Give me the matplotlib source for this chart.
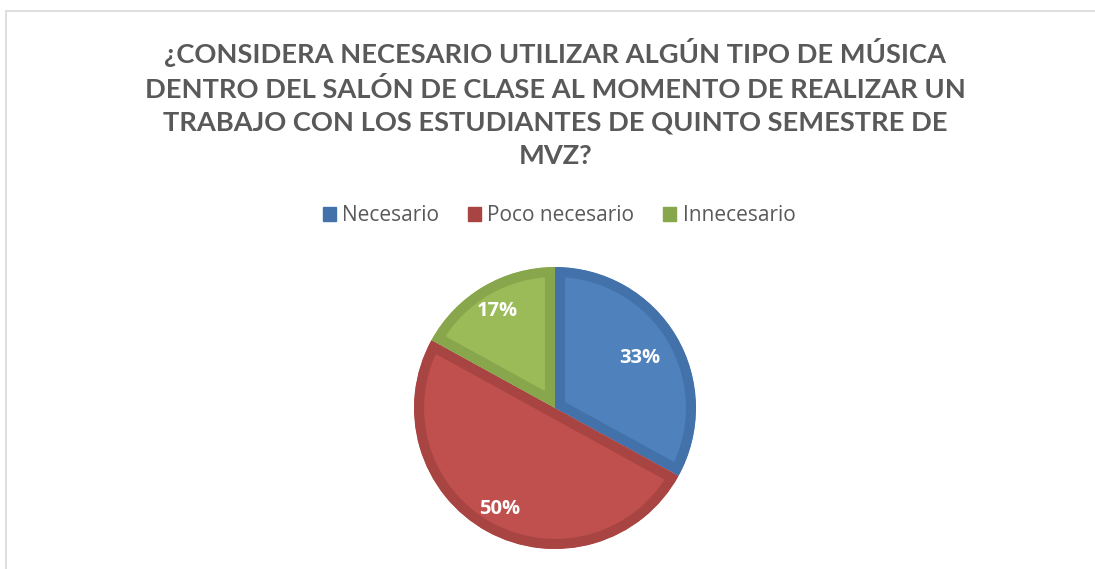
import numpy as np
import matplotlib
matplotlib.use("Agg")
import matplotlib.pyplot as plt
from matplotlib.patches import Patch, Rectangle

title = ("¿CONSIDERA NECESARIO UTILIZAR ALGÚN TIPO DE MÚSICA\n"
         "DENTRO DEL SALÓN DE CLASE AL MOMENTO DE REALIZAR UN\n"
         "TRABAJO CON LOS ESTUDIANTES DE QUINTO SEMESTRE DE\n"
         "MVZ?")
categories = ["Necesario", "Poco necesario", "Innecesario"]
values = [33, 50, 17]
labels = ["33%", "50%", "17%"]

fills = ["#4F81BD", "#C0504D", "#9BBB59"]
edges = ["#4372AB", "#A84542", "#88A64C"]
label_dist = [0.70, 0.82, 0.80]

W, H = 1095, 569
fig = plt.figure(figsize=(W / 100, H / 100), dpi=100)
ax = fig.add_axes([0, 0, 1, 1])

cx, cy, r = 555, H - 408, 141
wedges, _ = ax.pie(values, colors=fills, startangle=90, counterclock=False,
                   center=(cx, cy), radius=r, frame=True)
ax.set_xlim(0, W)
ax.set_ylim(0, H)
for w, ec, lab, d in zip(wedges, edges, labels, label_dist):
    w.set_edgecolor(ec)
    w.set_linewidth(14.5)
    # pie turns clipping off; clip each wedge to itself so only the inner half of the outline shows
    w.set_clip_on(True)
    w.set_clip_path(w)
    ang = np.deg2rad((w.theta1 + w.theta2) / 2)
    ax.text(cx + d * r * np.cos(ang), cy + d * r * np.sin(ang), lab,
            ha="center", va="center", color="white", fontsize=14.5,
            fontweight="bold", family="Open Sans")

ax.add_patch(Rectangle((6, -10), W + 10, H - 11 + 10, fill=False,
                       edgecolor="#D9D9D9", linewidth=1.2))
ax.axis("off")

fig.text(0.507, 1 - 103 / H, title, ha="center", va="center", fontsize=19.6,
         fontweight="bold", color="#595959", family="Lato", linespacing=1.47)

handles = [Patch(facecolor=c, edgecolor=c) for c in edges]
fig.legend(handles, categories, loc="center", bbox_to_anchor=(0.5105, 1 - 216 / H),
           ncol=3, frameon=False, handlelength=0.62, handleheight=0.62,
           handletextpad=0.3, columnspacing=1.4,
           prop={"family": "Open Sans", "size": 15}, labelcolor="#595959")

fig.savefig("out.png", dpi=100)
